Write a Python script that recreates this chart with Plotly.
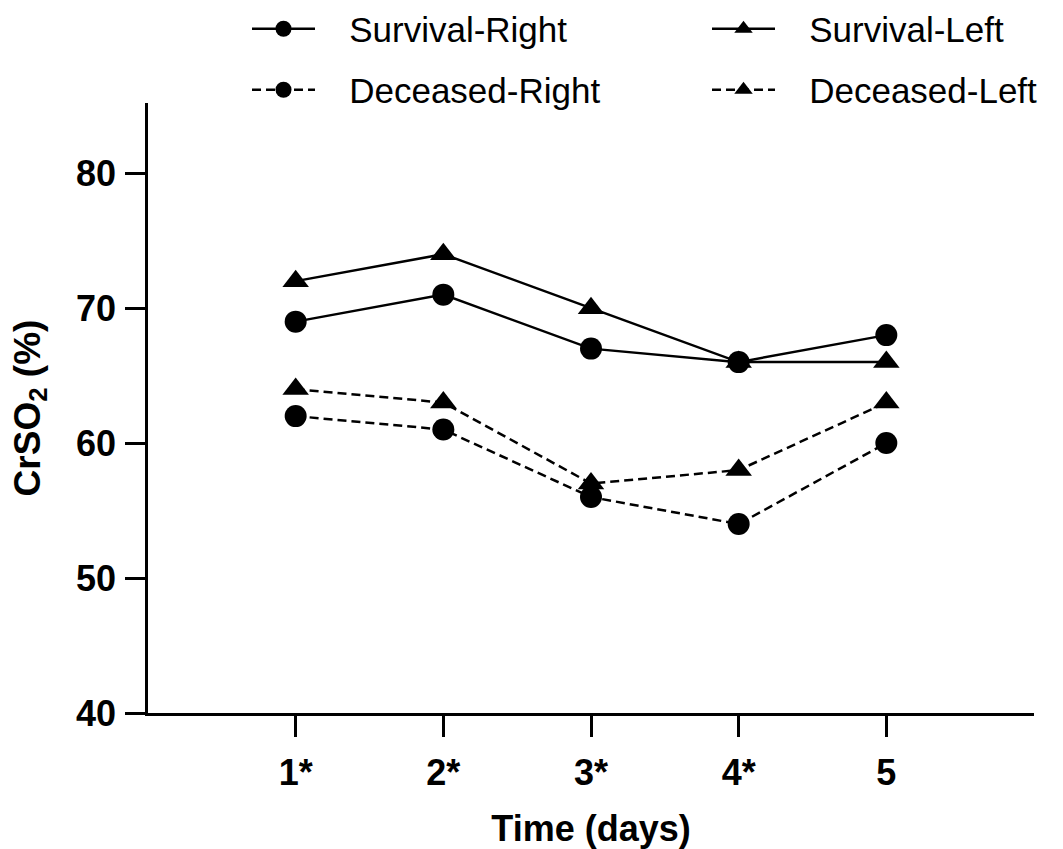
import plotly.graph_objects as go

categories = ["1*", "2*", "3*", "4*", "5"]
x_pos = [1, 2, 3, 4, 5]
survival_right = [69, 71, 67, 66, 68]
survival_left = [72, 74, 70, 66, 66]
deceased_right = [62, 61, 56, 54, 60]
deceased_left = [64, 63, 57, 58, 63]
y_ticks = [40, 50, 60, 70, 80]

FONT = "Liberation Sans, Arial, sans-serif"
BLACK = "#000000"
GAP = "\u00a0\u00a0\u00a0"  # spacing between legend symbol and label

fig = go.Figure()

def add(name, y, symbol, dash, legend, size):
    fig.add_trace(go.Scatter(
        x=x_pos, y=y, name=GAP + name, mode="lines+markers",
        line=dict(color=BLACK, width=2.5, dash=dash),
        marker=dict(symbol=symbol, size=size, color=BLACK),
        legend=legend, showlegend=True,
    ))

add("Survival-Right", survival_right, "circle", "solid", "legend", 22)
add("Survival-Left", survival_left, "triangle-up", "solid", "legend2", 23)
add("Deceased-Right", deceased_right, "circle", "9px,5px", "legend3", 22)
add("Deceased-Left", deceased_left, "triangle-up", "9px,5px", "legend4", 23)

legend_common = dict(
    orientation="h", xref="container", yref="container",
    xanchor="left", yanchor="middle",
    font=dict(size=35, family=FONT, color=BLACK),
    bgcolor="rgba(0,0,0,0)", itemwidth=63,
)

fig.update_layout(
    width=1063, height=849,
    showlegend=True,
    margin=dict(l=148, r=29, t=103, b=136, autoexpand=False),
    paper_bgcolor="white", plot_bgcolor="white",
    font=dict(family=FONT, color=BLACK),
    legend=dict(x=247 / 1063, y=1 - 29 / 849, **legend_common),
    legend2=dict(x=707 / 1063, y=1 - 29 / 849, **legend_common),
    legend3=dict(x=247 / 1063, y=1 - 90 / 849, **legend_common),
    legend4=dict(x=707 / 1063, y=1 - 90 / 849, **legend_common),
    xaxis=dict(
        range=[0, 6], tickvals=x_pos, ticktext=categories,
        showgrid=False, zeroline=False,
        showline=True, linecolor=BLACK, linewidth=2.5,
        ticks="outside", ticklen=21, tickwidth=2.5, tickcolor=BLACK,
        ticklabelstandoff=5,
        tickfont=dict(size=36, family=FONT, color=BLACK, weight="bold"),
        title=dict(text="Time (days)", standoff=24,
                   font=dict(size=36, family=FONT, color=BLACK, weight="bold")),
    ),
    yaxis=dict(
        range=[40, 85.2], tickvals=y_ticks,
        showgrid=False, zeroline=False,
        showline=True, linecolor=BLACK, linewidth=2.5,
        ticks="outside", ticklen=20, tickwidth=2.5, tickcolor=BLACK,
        ticklabelstandoff=2,
        tickfont=dict(size=36, family=FONT, color=BLACK, weight="bold"),
        title=dict(text="CrSO<sub>2</sub> (%)", standoff=25,
                   font=dict(size=37, family=FONT, color=BLACK, weight="bold")),
    ),
)

fig.write_html("out.html", config={"displayModeBar": False},
               post_script="document.body.style.margin='0';")
